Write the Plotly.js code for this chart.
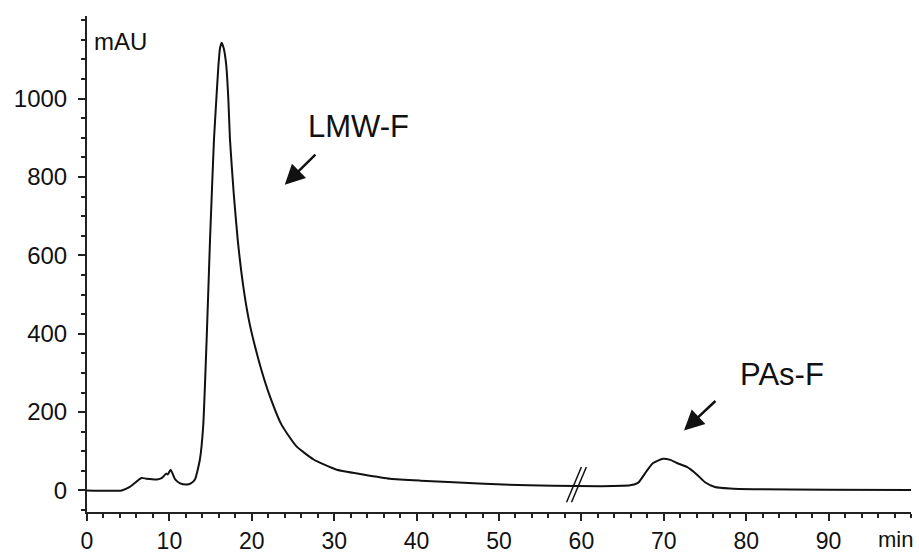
<!DOCTYPE html>
<html>
<head>
<meta charset="utf-8">
<script src="https://cdn.plot.ly/plotly-3.0.1.min.js"></script>
<style>html,body{margin:0;padding:0;background:#fff}#chart{width:919px;height:554px}</style>
</head>
<body>
<div id="chart"></div>
<script>
// Retention time (min)
const timeMin = [0, 4.2, 5.2, 6.6, 7.2, 8.5, 9.1, 9.6, 9.8, 10.15, 10.7, 11.3, 12.1, 12.6, 13.1, 13.7, 14.1, 14.52, 14.93, 15.17, 15.41, 15.7, 15.95, 16.15, 16.35, 16.6, 16.9, 17.15, 17.35, 17.8, 18.29, 18.97, 19.6, 20.3, 21.2, 22.2, 23.6, 25.4, 27.5, 30.3, 33.5, 36.8, 40.5, 44.5, 50.5, 56.6, 62.3, 65.9, 66.9, 67.9, 68.7, 69.9, 70.8, 71.6, 72.8, 74.0, 75.0, 76.2, 78.0, 80.9, 90.0, 100];
// Absorbance (mAU)
const absorbance = [0, 0, 9, 32, 30, 28, 32, 43, 41, 53, 28, 18, 15, 18, 28, 79, 164, 385, 640, 770, 896, 1000, 1085, 1130, 1143, 1128, 1085, 1000, 896, 760, 640, 520, 440, 375, 305, 240, 168, 113, 79, 53, 41, 30, 25, 21, 15, 12, 11, 13, 20, 49, 70, 81, 78, 70, 60, 41, 21, 9, 5, 3, 2, 1];

const xTickVals = [0, 10, 20, 30, 40, 50, 60, 70, 80, 90];
const xTickText = ["0", "10", "20", "30", "40", "50", "60", "70", "80", "90"];
const yTickVals = [0, 200, 400, 600, 800, 1000];
const yTickText = ["0", "200", "400", "600", "800", "1000"];

const peakLabels = ["LMW-F", "PAs-F"];
const xUnit = "min";
const yUnit = "mAU";

const ink = "#111";
const family = "Liberation Sans, Arial, sans-serif";
const font = {family: family, size: 24, color: ink};
const xFont = {family: family, size: 23, color: ink};

const trace = {
  x: timeMin, y: absorbance, type: "scatter", mode: "lines",
  line: {color: ink, width: 2, shape: "spline", smoothing: 0.5},
  hoverinfo: "skip"
};

const layout = {
  width: 919, height: 554,
  margin: {l: 87, r: 8, t: 16, b: 42},
  paper_bgcolor: "#fff", plot_bgcolor: "#fff",
  showlegend: false,
  font: font,
  xaxis: {
    range: [0, 100], showgrid: false, zeroline: false,
    showline: true, linecolor: "#222", linewidth: 2,
    ticks: "outside", ticklen: 7, tickwidth: 2, tickcolor: "#222",
    tickvals: xTickVals, ticktext: xTickText,
    tickfont: xFont,
    minor: {ticks: "outside", dtick: 2, tick0: 0, ticklen: 4, tickwidth: 2, tickcolor: "#222"}
  },
  yaxis: {
    range: [-55, 1211], showgrid: false, zeroline: false,
    showline: true, linecolor: "#222", linewidth: 2,
    ticks: "outside", ticklen: 7, tickwidth: 2, tickcolor: "#222",
    tickvals: yTickVals, ticktext: yTickText,
    tickfont: font, ticklabelstandoff: 6,
    minor: {ticks: "outside", dtick: 50, tick0: 0, ticklen: 4, tickwidth: 2, tickcolor: "#222"}
  },
  shapes: [
    {type: "line", xref: "x", yref: "y", x0: 58.2, y0: -30, x1: 60.0, y1: 60, line: {color: ink, width: 1.5}},
    {type: "line", xref: "x", yref: "y", x0: 58.8, y0: -30, x1: 60.6, y1: 60, line: {color: ink, width: 1.5}}
  ],
  annotations: [
    {text: yUnit, xref: "x", yref: "y", x: 0.6, y: 1147, xanchor: "left", yanchor: "middle", showarrow: false, font: font},
    {text: xUnit, xref: "x", yref: "paper", x: 98.1, y: -0.056, xanchor: "center", yanchor: "middle", showarrow: false, font: {family: family, size: 22, color: ink}},
    {text: peakLabels[0], xref: "x", yref: "y", x: 32.9, y: 930, xanchor: "center", yanchor: "middle", showarrow: false, font: {family: family, size: 31, color: ink}},
    {text: peakLabels[1], xref: "x", yref: "y", x: 84.3, y: 296, xanchor: "center", yanchor: "middle", showarrow: false, font: {family: family, size: 31, color: ink}},
    {text: "", xref: "x", yref: "y", x: 24.0, y: 780, axref: "x", ayref: "y", ax: 27.9, ay: 861, showarrow: true, arrowhead: 2, arrowsize: 1.6, arrowwidth: 2.5, arrowcolor: ink, standoff: 0},
    {text: "", xref: "x", yref: "y", x: 72.45, y: 153, axref: "x", ayref: "y", ax: 76.45, ay: 232, showarrow: true, arrowhead: 2, arrowsize: 1.6, arrowwidth: 2.5, arrowcolor: ink, standoff: 0}
  ]
};

Plotly.newPlot("chart", [trace], layout, {staticPlot: true, displayModeBar: false});
</script>
</body>
</html>
